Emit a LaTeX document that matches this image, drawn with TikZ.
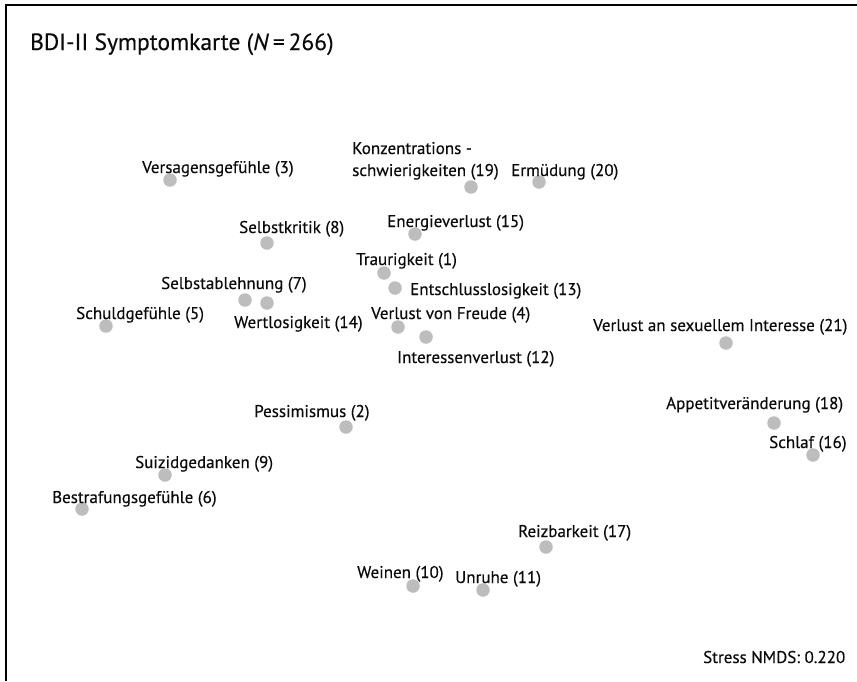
\documentclass[tikz,border=0pt]{standalone}
\usepackage{fontspec}
\setmainfont{PT Sans}[FakeBold=0.3]
\definecolor{dotgray}{HTML}{BDBDBD}
\definecolor{txt}{HTML}{0A0A0A}
\begin{document}
\begin{tikzpicture}[x=1pt,y=-1pt,
  dot/.style={circle,fill=dotgray,draw=none,minimum size=13.5pt,inner sep=0pt},
  lab/.style={anchor=base west,inner sep=0pt,font=\fontsize{17}{19}\selectfont,text=txt},
  frame/.style={line width=1.6pt,black}]
\useasboundingbox (0,0) rectangle (857,681);
\fill[white] (0,0) rectangle (857,681);
\draw[frame] (6,681) -- (6,5) -- (857,5);
\node[anchor=base west,inner sep=0pt,font=\fontsize{23.5}{26}\selectfont,text=txt] (title) at (30,50) {BDI-II Symptomkarte (\textit{N}\,=\,266)};
% dots
\node[dot] (d3)  at (170,180) {};
\node[dot] (d19) at (471,187) {};
\node[dot] (d20) at (539,182) {};
\node[dot] (d8)  at (267,243) {};
\node[dot] (d15) at (415,234) {};
\node[dot] (d1)  at (384,273) {};
\node[dot] (d13) at (395,288) {};
\node[dot] (d7)  at (245,300) {};
\node[dot] (d14) at (267,303) {};
\node[dot] (d5)  at (106,326) {};
\node[dot] (d4)  at (398,327) {};
\node[dot] (d12) at (426,337) {};
\node[dot] (d21) at (726,343) {};
\node[dot] (d18) at (774,423) {};
\node[dot] (d16) at (813,455) {};
\node[dot] (d2)  at (346,427) {};
\node[dot] (d9)  at (165,475) {};
\node[dot] (d6)  at (82,509) {};
\node[dot] (d17) at (546,547) {};
\node[dot] (d10) at (413,586) {};
\node[dot] (d11) at (483,590) {};
% labels
\node[lab] (l3)  at (142,173) {Versagensgefühle (3)};
\node[lab] (l19a) at (352,154) {Konzentrations -};
\node[lab] (l19) at (352,176) {schwierigkeiten (19)};
\node[lab] (l20) at (511,176) {Ermüdung (20)};
\node[lab] (l8)  at (239,233) {Selbstkritik (8)};
\node[lab] (l15) at (387,227) {Energieverlust (15)};
\node[lab] (l1)  at (356,265) {Traurigkeit (1)};
\node[lab] (l13) at (410,295) {Entschlusslosigkeit (13)};
\node[lab] (l7)  at (161,289) {Selbstablehnung (7)};
\node[lab] (l14) at (234,328) {Wertlosigkeit (14)};
\node[lab] (l5)  at (76,319) {Schuldgefühle (5)};
\node[lab] (l4)  at (371,319) {Verlust von Freude (4)};
\node[lab] (l12) at (397,363) {Interessenverlust (12)};
\node[lab] (l21) at (593,331) {Verlust an sexuellem Interesse (21)};
\node[lab] (l18) at (666,409) {Appetitveränderung (18)};
\node[lab] (l16) at (769,448) {Schlaf (16)};
\node[lab] (l2)  at (254,417) {Pessimismus (2)};
\node[lab] (l9)  at (135,468) {Suizidgedanken (9)};
\node[lab] (l6)  at (52,503) {Bestrafungsgefühle (6)};
\node[lab] (l17) at (518,537) {Reizbarkeit (17)};
\node[lab] (l10) at (357,578) {Weinen (10)};
\node[lab] (l11) at (455,583) {Unruhe (11)};
\node[lab] (stress) at (703,663) {Stress NMDS: 0.220};
\end{tikzpicture}
\end{document}
